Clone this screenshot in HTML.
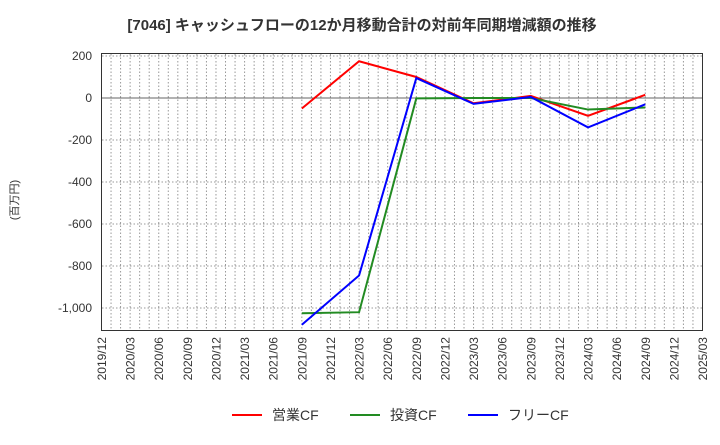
<!DOCTYPE html>
<html><head><meta charset="utf-8"><style>
body{margin:0;background:#fff;font-family:"Liberation Sans","Noto Sans CJK JP",sans-serif;}
</style></head><body>
<svg width="720" height="440" xmlns="http://www.w3.org/2000/svg" font-family="Liberation Sans, Noto Sans CJK JP, sans-serif">
<text x="362" y="30" text-anchor="middle" font-size="15" font-weight="bold" fill="#333">[7046]  キャッシュフローの12か月移動合計の対前年同期増減額の推移</text>
<text transform="translate(18,200) rotate(-90)" text-anchor="middle" font-size="11" fill="#333">(百万円)</text>
<g id="grid"></g>
<g id="yt"></g>
<g id="xt"></g>
<g id="series"></g>
<rect x="101.5" y="53.5" width="601" height="277" fill="none" stroke="#333"/>
<g font-size="14" fill="#333">
<line x1="232" y1="415" x2="262" y2="415" stroke="#f00" stroke-width="2"/><text x="272" y="420">営業CF</text>
<line x1="350" y1="415" x2="380" y2="415" stroke="#228b22" stroke-width="2"/><text x="390" y="420">投資CF</text>
<line x1="468" y1="415" x2="498" y2="415" stroke="#00f" stroke-width="2"/><text x="508" y="420">フリーCF</text>
</g>
</svg>
<script>
const xLabels=["2019/12","2020/03","2020/06","2020/09","2020/12","2021/03","2021/06","2021/09","2021/12","2022/03","2022/06","2022/09","2022/12","2023/03","2023/06","2023/09","2023/12","2024/03","2024/06","2024/09","2024/12","2025/03"];
const yTicks=[200,0,-200,-400,-600,-800,-1000];
const pointIdx=[7,9,11,13,15,17,19];
const opCF=[-50,175,100,-25,10,-85,15];
const invCF=[-1025,-1020,-2,0,0,-55,-45];
const freeCF=[-1080,-845,95,-28,5,-140,-30];
const NS="http://www.w3.org/2000/svg";
const X=i=>101.5+i*601/21, Y=v=>98-v*42/200;
function mk(t,a,p){const e=document.createElementNS(NS,t);for(const k in a)e.setAttribute(k,a[k]);p.appendChild(e);return e;}
const g=document.getElementById('grid'),yt=document.getElementById('yt'),xt=document.getElementById('xt'),s=document.getElementById('series');
for(let m=1;m<63;m++){const x=101.5+m*601/63;const l=mk('line',{x1:x,x2:x,y1:54,y2:330,stroke:'#999','stroke-dasharray':'1.5,2','stroke-width':1},g);}
yTicks.forEach(v=>{const y=Y(v);const l=mk('line',{x1:102,x2:702,y1:y,y2:y,stroke:v===0?'#666':'#999','stroke-dasharray':v===0?'none':'1.5,2','stroke-width':1},g);
const t=mk('text',{x:92,y:y+4,'text-anchor':'end','font-size':12,fill:'#333'},yt);t.textContent=v.toLocaleString('en-US');});
xLabels.forEach((lb,i)=>{const x=X(i);const t=mk('text',{transform:`translate(${x+4.5},337) rotate(-90)`,'text-anchor':'end','font-size':12,fill:'#333'},xt);t.textContent=lb;});
[[opCF,'#f00','operating-cf-line'],[invCF,'#228b22','investing-cf-line'],[freeCF,'#00f','free-cf-line']].forEach(([d,c,n])=>{const p=mk('polyline',{points:d.map((v,i)=>X(pointIdx[i])+','+Y(v)).join(' '),fill:'none',stroke:c,'stroke-width':2},s);});
</script>
</body></html>
